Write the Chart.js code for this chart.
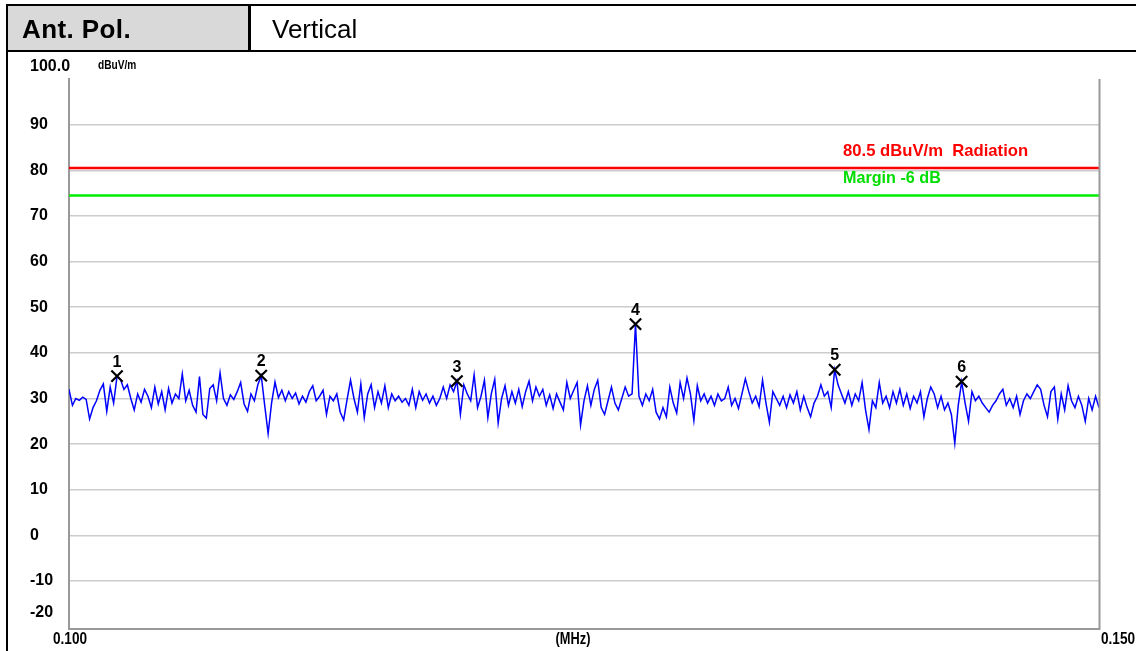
<!DOCTYPE html>
<html>
<head>
<meta charset="utf-8">
<script src="https://cdn.jsdelivr.net/npm/chart.js@4.4.1/dist/chart.umd.min.js"></script>
<style>
  html, body { margin: 0; padding: 0; background: #fff; width: 1136px; height: 651px; overflow: hidden; }
  #wrap { position: relative; width: 1136px; height: 651px; }
  #chart { position: absolute; left: 0; top: 0; }
  #frame { position: absolute; left: 6px; top: 4px; width: 1140px; height: 660px; border-left: 2px solid #000; border-top: 2px solid #000; box-sizing: border-box; }
  #hdr { position: absolute; left: 8px; top: 6px; width: 1130px; height: 44px; border-bottom: 2px solid #000; display: flex; }
  #c1 { width: 243px; background: #d9d9d9; border-right: 3px solid #000; display: flex; align-items: center; padding-left: 14px; padding-top: 2px; box-sizing: border-box; font: bold 26px "Liberation Sans", Arial, sans-serif; letter-spacing: 0.4px; color: #000; }
  #c2 { flex: 1; display: flex; align-items: center; padding-left: 21px; padding-top: 2px; font: 26px "Liberation Sans", Arial, sans-serif; color: #000; }
</style>
</head>
<body>
<div id="wrap">
  <canvas id="chart" width="1136" height="651"></canvas>
  <div id="frame"></div>
  <div id="hdr"><div id="c1">Ant. Pol.</div><div id="c2">Vertical</div></div>
</div>
<script>
// ---- data ----
const freqStart = 0.100;   // MHz
const freqStop = 0.150;    // MHz
const yTickValues = [-10, 0, 10, 20, 30, 40, 50, 60, 70, 80, 90];
const limitLevel = 80.5;   // dBuV/m Radiation
const marginLevel = 74.5;  // Margin -6 dB
const limitText = "80.5 dBuV/m  Radiation";
const marginText = "Margin -6 dB";
const traceLevels = [
  32.0,28.5,30.0,29.6,30.3,29.8,25.5,28.0,29.5,31.8,
  33.2,27.2,32.5,29.0,34.9,34.2,32.0,33.0,30.0,27.5,
  31.0,29.2,32.0,30.5,28.0,32.5,28.8,31.5,27.5,32.2,
  29.0,31.0,30.0,35.4,29.5,31.8,28.5,27.0,34.8,26.5,
  25.7,32.2,33.0,29.5,35.6,30.0,28.5,30.8,29.8,31.5,
  33.5,28.8,27.2,31.0,29.5,33.0,35.0,28.5,22.3,29.0,
  33.6,30.2,31.8,29.5,31.5,30.0,31.2,28.8,30.5,29.2,
  31.5,32.8,29.5,30.5,31.8,26.5,30.5,29.5,31.0,27.0,
  25.3,29.8,34.0,30.0,27.0,33.2,25.8,31.0,33.0,28.0,
  31.5,29.0,32.8,28.0,31.0,29.5,30.5,29.2,30.0,28.5,
  32.0,28.0,31.5,29.6,31.0,29.0,30.5,28.5,30.0,32.5,
  30.0,33.0,31.5,33.8,26.5,33.0,31.0,29.5,35.2,28.0,
  30.5,34.0,25.8,31.0,34.2,24.6,30.0,32.8,28.5,31.5,
  29.0,32.0,28.2,31.5,33.8,29.5,32.5,30.5,32.0,28.5,
  30.8,27.8,31.0,29.2,27.5,33.5,30.0,31.8,33.5,24.2,
  29.5,32.8,28.5,32.0,34.0,28.0,26.5,29.5,32.5,29.0,
  27.5,30.0,32.5,30.5,31.0,46.3,30.5,28.5,31.0,29.5,
  32.0,27.0,25.5,28.0,26.0,32.5,29.0,26.8,33.5,30.0,
  34.5,31.0,25.2,32.8,29.5,31.0,29.0,30.5,28.5,31.0,
  29.5,30.0,32.5,28.5,30.0,27.8,31.0,34.3,31.5,29.0,
  30.5,28.2,34.0,29.0,24.8,31.5,30.0,28.5,30.5,28.0,
  30.8,29.0,31.5,27.5,30.5,28.0,26.0,29.0,30.5,33.0,
  30.5,31.5,28.0,36.3,33.0,31.0,29.0,31.5,28.5,31.0,
  29.5,33.5,27.5,23.2,29.5,28.0,33.5,29.0,30.5,28.0,
  31.5,29.0,32.0,28.5,31.0,27.8,30.5,29.0,31.5,26.0,
  30.0,32.5,31.0,28.0,30.5,27.5,29.0,26.5,20.2,28.5,
  33.7,29.0,25.0,31.5,29.5,30.5,29.0,28.0,27.0,28.5,
  29.5,31.0,32.0,28.5,30.0,28.0,30.5,26.5,29.5,31.0,
  30.0,31.5,33.0,32.0,28.5,26.0,31.5,32.5,25.5,31.0,
  27.5,32.8,29.5,28.0,30.5,28.5,25.0,30.0,27.5,30.5,
  28.0
];
const markerNumbers = ["1", "2", "3", "4", "5", "6"];
const markerFreqs = [0.10233, 0.10933, 0.11883, 0.12750, 0.13717, 0.14333];
const markerLevels = [34.9, 35.0, 33.8, 46.3, 36.3, 33.7];

// ---- build ----
const stepCount = traceLevels.length - 1;
const tracePoints = traceLevels.map((v, i) => ({ x: freqStart + (freqStop - freqStart) * i / stepCount, y: v }));
const markerPoints = markerFreqs.map((f, i) => ({ x: f, y: markerLevels[i] }));

const FONT = '"Liberation Sans", Arial, sans-serif';

function condensedText(ctx, text, x, y, sx, align) {
  ctx.save();
  ctx.translate(x, y);
  ctx.scale(sx, 1);
  ctx.textAlign = align;
  ctx.fillText(text, 0, 0);
  ctx.restore();
}

const overlay = {
  id: 'overlay',
  afterDraw(chart) {
    const ctx = chart.ctx;
    const a = chart.chartArea;
    const xs = chart.scales.x, ys = chart.scales.y;
    ctx.save();
    // right frame line
    ctx.strokeStyle = '#999999';
    ctx.lineWidth = 2;
    ctx.beginPath();
    ctx.moveTo(a.right + 0.5, a.top);
    ctx.lineTo(a.right + 0.5, a.bottom + 1);
    ctx.stroke();
    ctx.fillStyle = '#000';
    ctx.textBaseline = 'middle';
    ctx.font = 'bold 16px ' + FONT;
    ctx.textAlign = 'left';
    ctx.fillText('100.0', 30, 67);
    ctx.fillText('-20', 30, 613);
    ctx.font = 'bold 13px ' + FONT;
    condensedText(ctx, 'dBuV/m', 98, 65, 0.78, 'left');
    // x labels
    ctx.font = 'bold 16px ' + FONT;
    condensedText(ctx, freqStart.toFixed(3), 53, 640, 0.85, 'left');
    condensedText(ctx, '(MHz)', 573, 640, 0.8, 'center');
    condensedText(ctx, freqStop.toFixed(3), xs.getPixelForValue(freqStop) + 2, 640, 0.85, 'left');
    // limit texts
    ctx.font = 'bold 17px ' + FONT;
    ctx.fillStyle = '#ff0000';
    condensedText(ctx, limitText, 843, ys.getPixelForValue(limitLevel) - 17, 0.98, 'left');
    ctx.fillStyle = '#00dd00';
    condensedText(ctx, marginText, 843, ys.getPixelForValue(marginLevel) - 17, 0.95, 'left');
    // marker numbers
    ctx.fillStyle = '#000';
    ctx.font = 'bold 16px ' + FONT;
    ctx.textAlign = 'center';
    markerPoints.forEach((p, i) => {
      ctx.fillText(markerNumbers[i], xs.getPixelForValue(p.x), ys.getPixelForValue(p.y) - 14);
    });
    ctx.restore();
  }
};

new Chart(document.getElementById('chart'), {
  type: 'line',
  data: {
    datasets: [
      { label: 'Limit', data: [{ x: freqStart, y: limitLevel }, { x: freqStop, y: limitLevel }], borderColor: '#ff0000', borderWidth: 2.5, pointRadius: 0, order: 3 },
      { label: 'Margin', data: [{ x: freqStart, y: marginLevel }, { x: freqStop, y: marginLevel }], borderColor: '#00ee00', borderWidth: 2.5, pointRadius: 0, order: 3 },
      { label: 'Trace', data: tracePoints, borderColor: '#0000ff', borderWidth: 1.5, pointRadius: 0, tension: 0, order: 2 },
      { label: 'Markers', data: markerPoints, showLine: false, pointStyle: 'crossRot', pointRadius: 8, borderColor: '#000', borderWidth: 2.2, order: 1 }
    ]
  },
  options: {
    responsive: false,
    animation: false,
    devicePixelRatio: 1,
    layout: { padding: { left: 30, right: 37, top: 79, bottom: 22 } },
    plugins: { legend: { display: false }, tooltip: { enabled: false } },
    scales: {
      x: {
        type: 'linear', min: freqStart, max: freqStop,
        grid: { display: false },
        ticks: { display: false },
        border: { display: true, color: '#999999', width: 2 },
        afterFit(s) { s.height = 0; }
      },
      y: {
        min: -20.5, max: 100,
        afterBuildTicks(s) { s.ticks = yTickValues.map(v => ({ value: v })); },
        grid: { color: '#cccccc', lineWidth: 1.5, drawTicks: false },
        border: { display: true, color: '#999999', width: 2 },
        ticks: { color: '#000', font: { family: FONT, size: 16, weight: 'bold' }, crossAlign: 'far', padding: 0, callback: v => String(v) },
        afterFit(s) { s.width = 39; }
      }
    }
  },
  plugins: [overlay]
});
</script>
</body>
</html>
